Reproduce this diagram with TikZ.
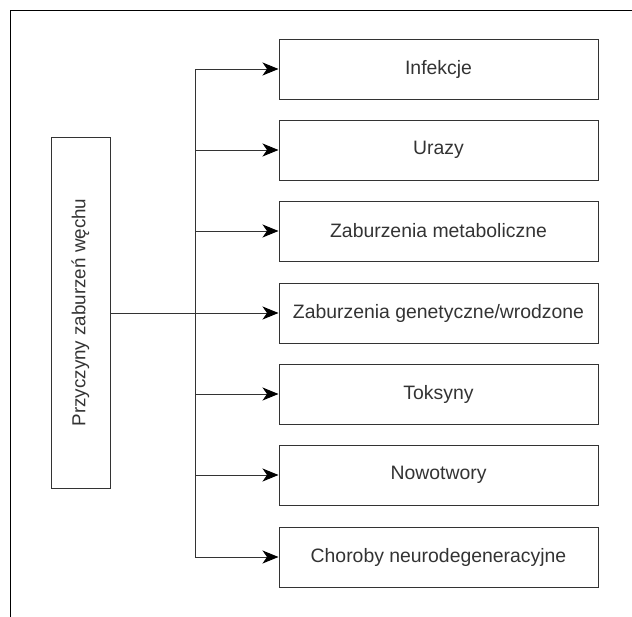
\documentclass[tikz,border=0pt]{standalone}
\usepackage{fontspec}
\setmainfont{Liberation Sans}
\usetikzlibrary{arrows.meta}
\definecolor{txt}{HTML}{333333}
\definecolor{edge}{HTML}{333333}
\begin{document}
\begin{tikzpicture}[x=1pt,y=-1pt,
  cause/.style={draw=edge,line width=1pt,minimum width=319pt,minimum height=60pt,inner sep=0pt,
    text=txt,font=\fontsize{19.4}{23}\selectfont},
  root/.style={draw=edge,line width=1pt,minimum width=351pt,minimum height=59pt,inner sep=0pt,
    text=txt,font=\fontsize{18.8}{23}\selectfont,rotate=90},
  conn/.style={draw=edge,line width=1pt,-{Stealth[length=16pt,width=13pt,inset=4.5pt,fill=black,color=black]}},
  trunk/.style={draw=edge,line width=1pt}]
\useasboundingbox (0,0) rectangle (632,616);
\draw[black,line width=1pt] (10.5,617) -- (10.5,10.5) -- (633,10.5);
\node[root] (r) at (80.5,312.5) {Przyczyny zaburzeń węchu};
\node[cause] (c1) at (438.5,69) {Infekcje};
\node[cause] (c2) at (438.5,150) {Urazy};
\node[cause] (c3) at (438.5,231) {Zaburzenia metaboliczne};
\node[cause] (c4) at (438.5,313) {Zaburzenia genetyczne/wrodzone};
\node[cause] (c5) at (438.5,394) {Toksyny};
\node[cause] (c6) at (438.5,475) {Nowotwory};
\node[cause] (c7) at (438.5,557) {Choroby neurodegeneracyjne};
\coordinate (t1) at (195,69);
\coordinate (t7) at (195,557);
\draw[trunk] (t1) -- (t7);
\draw[conn] (r.south |- c4.west) -- (c4.west);
\foreach \i in {1,2,3,5,6,7}{
  \draw[conn] (t1 |- c\i.west) -- (c\i.west);
}
\end{tikzpicture}
\end{document}
